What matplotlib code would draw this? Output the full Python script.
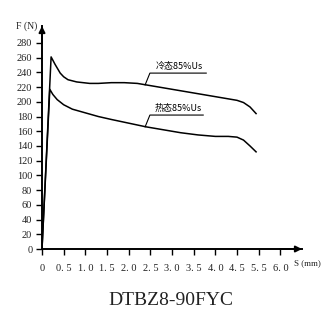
import matplotlib
matplotlib.use("Agg")
import matplotlib.pyplot as plt

# ---- data ----
cold_s = [0, 0.21, 0.30, 0.42, 0.50, 0.60, 0.80, 1.10, 1.30, 1.60, 1.90, 2.20, 2.50, 2.80, 3.10, 3.40, 3.70, 4.00, 4.30, 4.50, 4.65, 4.80, 4.94]
cold_f = [0, 261, 251, 239, 234, 230, 227, 225, 225, 226, 226, 225, 222, 219, 216, 213, 210, 207, 204, 202, 199, 193, 184]
hot_s = [0, 0.18, 0.25, 0.35, 0.50, 0.70, 1.00, 1.30, 1.60, 2.00, 2.40, 2.80, 3.20, 3.60, 4.00, 4.30, 4.50, 4.65, 4.80, 4.94]
hot_f = [0, 217, 210, 203, 196, 190, 185, 180, 176, 171, 166, 162, 158, 155, 153, 153, 152, 148, 140, 132]
x_ticks = [0, 0.5, 1.0, 1.5, 2.0, 2.5, 3.0, 3.5, 4.0, 4.5, 5.0, 5.5]
x_tick_labels = ["0", "0. 5", "1. 0", "1. 5", "2. 0", "2. 5", "3. 0", "3. 5", "4. 0", "4. 5", "5. 5", "6. 0"]
y_ticks = list(range(0, 281, 20))
cold_label = "冷态85%Us"
hot_label = "热态85%Us"
title = "DTBZ8-90FYC"

serif = "Liberation Serif"
cjk = ["Noto Sans CJK SC", "DejaVu Sans"]

fig = plt.figure(figsize=(3.31, 3.27), dpi=100)
ax = fig.add_axes([0.1269, 0.2385, 0.7855, 0.682])
ax.set_xlim(0, 6.0)
ax.set_ylim(0, 303)

for s in ["top", "right"]:
    ax.spines[s].set_visible(False)
for s in ["left", "bottom"]:
    ax.spines[s].set_linewidth(1.4)

# arrows on axes
ax.annotate("", xy=(6.0, 0), xytext=(5.5, 0),
            arrowprops=dict(arrowstyle="-|>", lw=1.4, color="black", mutation_scale=9, shrinkA=0, shrinkB=0),
            annotation_clip=False)
ax.annotate("", xy=(0, 303), xytext=(0, 280),
            arrowprops=dict(arrowstyle="-|>", lw=1.4, color="black", mutation_scale=9, shrinkA=0, shrinkB=0),
            annotation_clip=False)

ax.plot(cold_s, cold_f, color="black", lw=1.1)
ax.plot(hot_s, hot_f, color="black", lw=1.1)

ax.set_xticks(x_ticks)
ax.set_xticklabels(x_tick_labels, fontfamily=serif, fontsize=7.5)
ax.set_yticks(y_ticks)
ax.set_yticklabels([str(v) for v in y_ticks], fontfamily=serif, fontsize=7.5)
ax.tick_params(axis="both", direction="out", length=4, width=1.0, color="black", labelcolor="#222222")
ax.tick_params(axis="x", pad=7)
ax.tick_params(axis="y", pad=3)

# axis labels
ax.text(-0.12, 303, "F (N)", fontfamily=serif, fontsize=7, ha="right", va="center", clip_on=False, color="#222222")
ax.text(6.12, -19, "S (mm)", fontfamily=serif, fontsize=6.5, ha="center", va="center", clip_on=False, color="#222222")

# annotations (leader + underline)
ax.plot([2.38, 2.49, 3.79], [223, 239, 239], color="black", lw=0.8)
ax.text(2.62, 242, cold_label, fontfamily=cjk, fontsize=6.5, ha="left", va="bottom")
ax.plot([2.38, 2.49, 3.72], [166, 182, 182], color="black", lw=0.8)
ax.text(2.60, 185, hot_label, fontfamily=cjk, fontsize=6.5, ha="left", va="bottom")

fig.text(0.515, 0.08, title, fontfamily=serif, fontsize=14, ha="center", va="center", color="#222222")

fig.savefig("out.png", dpi=100)
